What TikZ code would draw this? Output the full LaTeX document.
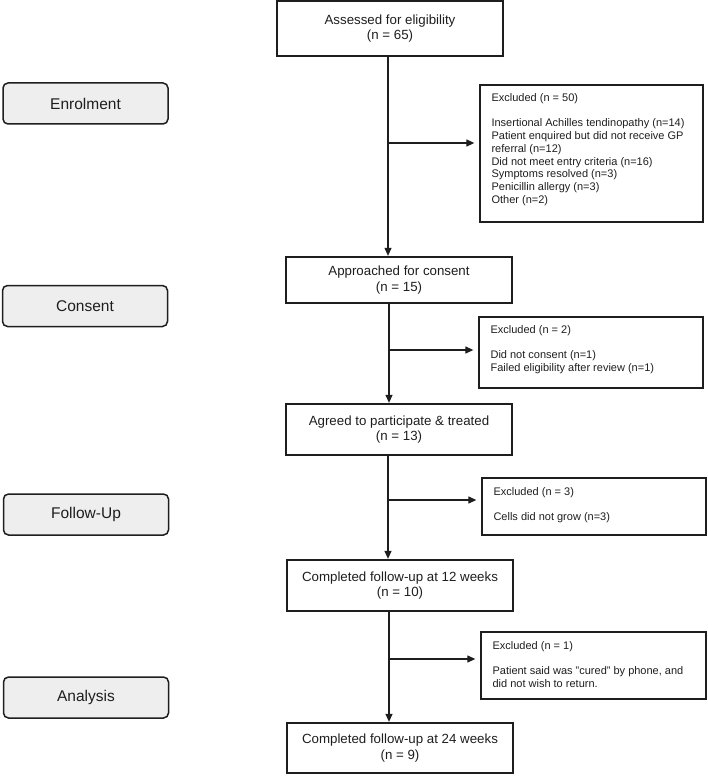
\documentclass[tikz,border=0pt]{standalone}
\usepackage{fontspec}
\setmainfont{Liberation Sans}
\usetikzlibrary{arrows.meta,calc}
\definecolor{ink}{HTML}{1E1E1E}
\definecolor{phasefill}{HTML}{EEEEEE}
\begin{document}
\begin{tikzpicture}[x=1pt,y=-1pt,
  mainbox/.style={draw=ink, line width=1.3pt, minimum width=226pt, align=center, inner sep=0pt, font=\fontsize{13.3}{15.3}\selectfont, text=ink},
  exbox/.style={draw=ink, line width=1.3pt, inner sep=0pt},
  extext/.style={anchor=north west, inner sep=0pt, align=left, font=\fontsize{11}{12.7}\selectfont, text=ink},
  phase/.style={draw=ink, line width=1.5pt, rounded corners=5pt, fill=phasefill, minimum width=165pt, minimum height=41pt, inner sep=0pt, font=\fontsize{15.5}{18}\selectfont, text=ink},
  conn/.style={draw=ink, line width=1.2pt},
  arr/.style={conn, -{Triangle[length=8pt,width=7pt]}}]
\useasboundingbox (0,0) rectangle (708,781);

% phase labels
\node[phase] (pEnrol) at (85.5,103.5) {Enrolment};
\node[phase] (pCons) at (85,306) {Consent};
\node[phase] (pFollow) at (86,514.5) {Follow-Up};
\node[phase] (pAnal) at (86,697.5) {Analysis};

% main boxes
\node[mainbox, minimum height=55pt] (b1) at (390,28.5) {Assessed for eligibility\\(n = 65)};
\node[mainbox, minimum height=46pt] (b2) at (399,280) {Approached for consent\\(n = 15)};
\node[mainbox, minimum height=51pt] (b3) at (399,429.5) {Agreed to participate \& treated\\(n = 13)};
\node[mainbox, minimum height=51pt] (b4) at (400,585.5) {Completed follow-up at 12 weeks\\(n = 10)};
\node[mainbox, minimum height=50pt] (b5) at (400,748) {Completed follow-up at 24 weeks\\(n = 9)};

% exclusion boxes
\node[exbox, minimum width=223pt, minimum height=137pt] (ex1) at (591.5,153.5) {};
\node[extext] (ex1t) at ($(ex1.north west)+(12,9)$) {Excluded (n = 50)\\[12.7pt]Insertional Achilles tendinopathy (n=14)\\Patient enquired but did not receive GP\\referral (n=12)\\Did not meet entry criteria (n=16)\\Symptoms resolved (n=3)\\Penicillin allergy (n=3)\\Other (n=2)};

\node[exbox, minimum width=224pt, minimum height=71pt] (ex2) at (591,352.5) {};
\node[extext] (ex2t) at ($(ex2.north west)+(12,9)$) {Excluded (n = 2)\\[12.7pt]Did not consent (n=1)\\Failed eligibility after review (n=1)};

\node[exbox, minimum width=224pt, minimum height=57pt] (ex3) at (594,506.5) {};
\node[extext] (ex3t) at ($(ex3.north west)+(12,10)$) {Excluded (n = 3)\\[12.7pt]Cells did not grow (n=3)};

\node[exbox, minimum width=225pt, minimum height=67pt] (ex4) at (593.5,665.5) {};
\node[extext] (ex4t) at ($(ex4.north west)+(12,10)$) {Excluded (n = 1)\\[12.7pt]Patient said was "cured" by phone, and\\did not wish to return.};

% trunk junctions
\coordinate (j1) at (388,143);
\coordinate (j2) at (389,350);
\coordinate (j3) at (388,500);
\coordinate (j4) at (389,659);

\draw[arr, shorten >=0.5pt] (b1.south -| j1) -- (b2.north -| j1);
\draw[arr, shorten >=0.5pt] (b2.south -| j2) -- (b3.north -| j2);
\draw[arr, shorten >=0.5pt] (b3.south -| j3) -- (b4.north -| j3);
\draw[arr, shorten >=0.5pt] (b4.south -| j4) -- (b5.north -| j4);

\draw[arr, shorten >=5pt] (j1) -- (j1 -| ex1.west);
\draw[arr, shorten >=5pt] (j2) -- (j2 -| ex2.west);
\draw[arr, shorten >=5pt] (j3) -- (j3 -| ex3.west);
\draw[arr, shorten >=5pt] (j4) -- (j4 -| ex4.west);
\end{tikzpicture}
\end{document}
